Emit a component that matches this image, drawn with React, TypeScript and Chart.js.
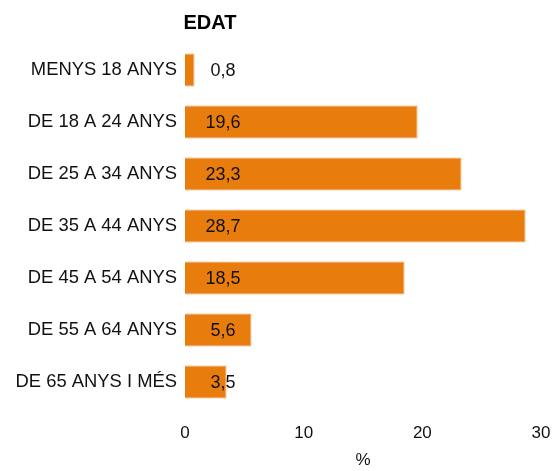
import React, { useEffect, useRef } from "react";
import { Chart, registerables } from "chart.js";

Chart.register(...registerables);

const categories = [
  "MENYS 18 ANYS",
  "DE 18 A 24 ANYS",
  "DE 25 A 34 ANYS",
  "DE 35 A 44 ANYS",
  "DE 45 A 54 ANYS",
  "DE 55 A 64 ANYS",
  "DE 65 ANYS I MÉS",
];
const values = [0.8, 19.6, 23.3, 28.7, 18.5, 5.6, 3.5];
const xTicks = [0, 10, 20, 30];
const titleText = "EDAT";
const axisTitle = "%";

const FONT = "'Liberation Sans', Arial, sans-serif";

const labelPlugin = {
  id: "valueLabels",
  afterDatasetsDraw(chart: any) {
    const ctx = chart.ctx;
    const meta = chart.getDatasetMeta(0);
    const xs = chart.scales.x;
    const x0 = xs.getPixelForValue(0);
    ctx.save();
    ctx.font = `18px ${FONT}`;
    ctx.fillStyle = "#111";
    ctx.textAlign = "center";
    ctx.textBaseline = "middle";
    meta.data.forEach((el: any, i: number) => {
      const txt = values[i].toFixed(1).replace(".", ",");
      ctx.fillText(txt, x0 + 38, el.y + 1);
    });
    ctx.restore();
  },
  afterDraw(chart: any) {
    const ctx = chart.ctx;
    ctx.save();
    ctx.font = `bold 20px ${FONT}`;
    ctx.fillStyle = "#000";
    ctx.textAlign = "center";
    ctx.textBaseline = "middle";
    ctx.fillText(titleText, chart.chartArea.left + 25, 23);
    ctx.restore();
  },
};

export default function App() {
  const ref = useRef<HTMLCanvasElement>(null);
  useEffect(() => {
    document.body.style.margin = "0";
    const chart = new Chart(ref.current!, {
      type: "bar",
      data: {
        labels: categories,
        datasets: [
          {
            data: values,
            backgroundColor: "#E87D0E",
            borderColor: "#F3A45A",
            borderWidth: 1,
            barPercentage: 0.7,
            categoryPercentage: 0.9,
          },
        ],
      },
      options: {
        indexAxis: "y",
        animation: false,
        responsive: false,
        layout: { padding: { top: 44, right: 17, bottom: 0, left: 0 } },
        plugins: { legend: { display: false }, tooltip: { enabled: false }, title: { display: false } },
        scales: {
          x: {
            min: 0,
            max: 30,
            afterBuildTicks: (s: any) => {
              s.ticks = xTicks.map((v) => ({ value: v }));
            },
            grid: { display: false, drawTicks: false },
            border: { display: false },
            ticks: { color: "#111", font: { family: FONT, size: 17 }, padding: 15 },
            title: {
              display: true,
              text: axisTitle,
              color: "#111",
              font: { family: FONT, size: 17 },
              padding: { top: 12, bottom: 0 },
            },
            afterFit: (s: any) => {
              s.height = 63;
              s.paddingLeft = 0;
              s.paddingRight = 0;
            },
          },
          y: {
            grid: { display: false, drawTicks: false },
            border: { display: false },
            ticks: { color: "#111", font: { family: FONT, size: 18.4 }, padding: 8 },
            afterFit: (s: any) => {
              s.width = 185;
            },
          },
        },
      },
      plugins: [labelPlugin],
    } as any);
    return () => chart.destroy();
  }, []);
  return (
    <div style={{ width: 558, height: 471 }}>
      <canvas ref={ref} width={558} height={471} />
    </div>
  );
}
